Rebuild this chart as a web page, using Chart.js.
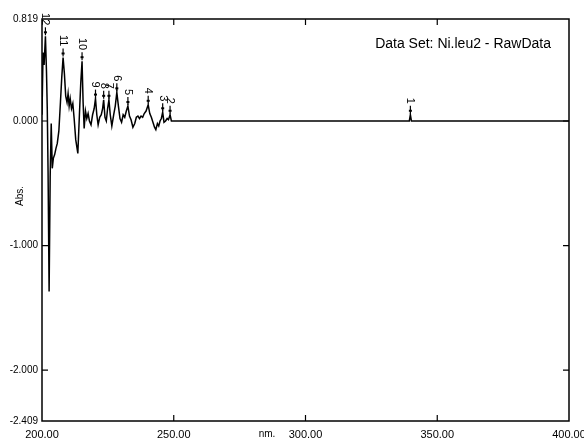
<!DOCTYPE html>
<html>
<head>
<meta charset="utf-8">
<title>Ni.leu2 - RawData</title>
<script src="https://cdn.jsdelivr.net/npm/chart.js@4/dist/chart.umd.min.js"></script>
<style>
  html, body { margin: 0; padding: 0; background: #fff; }
  #wrap { width: 584px; height: 442px; }
</style>
</head>
<body>
<div id="wrap"><canvas id="specChart" width="584" height="442"></canvas></div>
<script>
// spectrum (nm, Abs.)
const wavelengths = [
  200.0, 200.4, 200.8, 201.3, 201.7, 202.0, 202.3, 202.7, 203.1,
  203.5, 203.9, 204.3, 204.8, 205.3, 205.8, 206.4, 207.0, 207.5, 208.0,
  208.5, 209.0, 209.5, 209.9, 210.3, 210.7, 211.2, 211.7, 212.2, 212.8,
  213.6, 214.2, 214.7, 215.2, 215.6, 216.0, 216.5, 217.0, 217.5, 218.0,
  218.6, 219.2, 219.8, 220.3, 220.8, 221.3, 221.9, 222.5, 223.0, 223.4,
  223.9, 224.4, 224.9, 225.4, 225.9, 226.5, 227.2, 227.8, 228.4, 229.0,
  229.6, 230.2, 230.8, 231.4, 232.0, 232.6, 233.2, 233.8, 234.5, 235.2,
  235.8, 236.4, 237.0, 237.6, 238.2, 238.8, 239.5, 240.3, 240.9, 241.5,
  242.1, 242.7, 243.2, 243.8, 244.3, 244.8, 245.3, 245.8, 246.3, 246.9,
  247.5, 248.0, 248.6, 249.1, 250.0, 270.0, 300.0, 339.4, 339.8, 340.2,
  370.0, 400.0
];
const absorbance = [
  0.05, 0.55, 0.45, 0.68, 0.40, 0.10, -0.40, -1.37, -0.45,
  -0.02, -0.38, -0.30, -0.27, -0.22, -0.18, -0.08, 0.15, 0.35, 0.51,
  0.38, 0.20, 0.15, 0.22, 0.12, 0.18, 0.10, 0.14, 0.02, -0.15,
  -0.26, 0.05, 0.30, 0.48, 0.15, -0.06, 0.08, 0.02, 0.06, 0.00,
  -0.03, 0.05, 0.10, 0.18, 0.05, -0.03, 0.03, 0.05, 0.10, 0.17,
  0.03, 0.00, 0.10, 0.17, 0.05, -0.04, 0.05, 0.12, 0.23, 0.12,
  0.02, -0.01, 0.05, 0.03, 0.08, 0.12, 0.04, 0.01, -0.05, -0.02,
  0.03, 0.04, 0.02, 0.04, 0.03, 0.06, 0.08, 0.13, 0.06, 0.03,
  -0.01, -0.05, -0.07, -0.02, -0.04, 0.00, 0.02, 0.07, -0.01, 0.00,
  0.02, 0.01, 0.05, 0.00, 0.00, 0.00, 0.00, 0.00, 0.05, 0.00,
  0.00, 0.00
];

// picked peaks
const peakLabels = ['12', '11', '10', '9', '8', '7', '6', '5', '4', '3', '2', '1'];
const peakNm = [201.3, 208.0, 215.2, 220.3, 223.4, 225.4, 228.4, 232.6, 240.3, 245.8, 248.6, 339.8];
const peakAbs = [0.68, 0.51, 0.48, 0.18, 0.17, 0.17, 0.23, 0.12, 0.13, 0.07, 0.05, 0.05];

const xTicks = [200, 250, 300, 350, 400];
const yTicks = [-2.409, -2, -1, 0, 0.819];
const FONT = '"Liberation Sans", Arial, sans-serif';

// frame, inward tick marks, peak markers, title text
const decorPlugin = {
  id: 'decor',
  afterDatasetsDraw(chart) {
    const ctx = chart.ctx;
    const a = chart.chartArea;
    const xs = chart.scales.x, ys = chart.scales.y;
    ctx.save();
    ctx.strokeStyle = '#000';
    ctx.lineWidth = 1.5;
    ctx.strokeRect(a.left, a.top, a.right - a.left, a.bottom - a.top);

    ctx.lineWidth = 1.2;
    ctx.beginPath();
    [250, 300, 350].forEach(v => {
      const px = xs.getPixelForValue(v);
      ctx.moveTo(px, a.bottom); ctx.lineTo(px, a.bottom - 6);
      ctx.moveTo(px, a.top); ctx.lineTo(px, a.top + 6);
    });
    [-2, -1, 0].forEach(v => {
      const py = ys.getPixelForValue(v);
      ctx.moveTo(a.left, py); ctx.lineTo(a.left + 6, py);
      ctx.moveTo(a.right, py); ctx.lineTo(a.right - 6, py);
    });
    ctx.stroke();

    // peak markers
    ctx.fillStyle = '#000';
    ctx.font = '11px ' + FONT;
    ctx.textAlign = 'right';
    ctx.textBaseline = 'middle';
    peakNm.forEach((nm, i) => {
      const px = xs.getPixelForValue(nm);
      const py = ys.getPixelForValue(peakAbs[i]);
      ctx.beginPath();
      ctx.lineWidth = 1.2;
      ctx.moveTo(px, py - 1);
      ctx.lineTo(px, py - 9);
      ctx.stroke();
      ctx.fillRect(px - 1.5, py - 5, 3, 2);
      ctx.save();
      ctx.translate(px, py - 11);
      ctx.rotate(Math.PI / 2);
      ctx.fillText(peakLabels[i], 0, 0);
      ctx.restore();
    });

    // title
    ctx.font = '14px ' + FONT;
    ctx.textAlign = 'right';
    ctx.fillText('Data Set: Ni.leu2 - RawData', 551, 44);

    // axis captions
    ctx.font = '10px ' + FONT;
    ctx.textAlign = 'center';
    ctx.fillText('nm.', 267, 434);
    ctx.save();
    ctx.translate(20, 196);
    ctx.rotate(-Math.PI / 2);
    ctx.fillText('Abs.', 0, 0);
    ctx.restore();
    ctx.restore();
  }
};

new Chart(document.getElementById('specChart'), {
  type: 'line',
  data: {
    datasets: [{
      data: wavelengths.map((w, i) => ({ x: w, y: absorbance[i] })),
      borderColor: '#000',
      borderWidth: 1.5,
      pointRadius: 0,
      fill: false,
      tension: 0
    }]
  },
  options: {
    responsive: false,
    animation: false,
    devicePixelRatio: 1,
    layout: { padding: { top: 19, right: 15, bottom: 0, left: 0 } },
    plugins: {
      legend: { display: false },
      tooltip: { enabled: false }
    },
    scales: {
      x: {
        type: 'linear',
        min: 200,
        max: 400,
        grid: { display: false, drawTicks: false },
        border: { display: false },
        afterBuildTicks: s => { s.ticks = xTicks.map(v => ({ value: v })); },
        afterFit: s => { s.height = 21; s.paddingLeft = 0; s.paddingRight = 0; },
        ticks: {
          autoSkip: false,
          maxRotation: 0,
          padding: 7,
          color: '#000',
          font: { family: FONT, size: 11 },
          callback: v => v.toFixed(2)
        }
      },
      y: {
        min: -2.409,
        max: 0.819,
        grid: { display: false, drawTicks: false },
        border: { display: false },
        afterBuildTicks: s => { s.ticks = yTicks.map(v => ({ value: v })); },
        afterFit: s => { s.width = 42; s.paddingTop = 0; s.paddingBottom = 0; },
        ticks: {
          autoSkip: false,
          padding: 4,
          color: '#000',
          font: { family: FONT, size: 10 },
          callback: v => v.toFixed(3)
        }
      }
    }
  },
  plugins: [decorPlugin]
});
</script>
</body>
</html>
